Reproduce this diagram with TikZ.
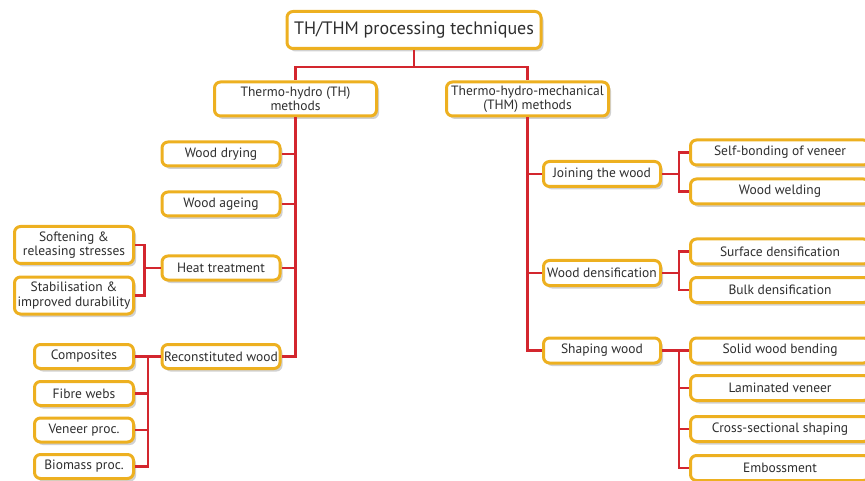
\documentclass[tikz,border=0pt]{standalone}
\usepackage{fontspec}
\setmainfont{PT Sans}
\usepackage{xcolor}
\usepackage{tikz}
\usetikzlibrary{shadows,calc}

\definecolor{boxorange}{HTML}{EDB020}
\definecolor{linkred}{HTML}{D3262E}
\definecolor{textgrey}{HTML}{2E2E2E}

\begin{document}
\begin{tikzpicture}[x=1pt, y=-1pt,
    basebox/.style={rectangle, rounded corners=6pt, draw=boxorange, line width=3pt, fill=white, align=center, text=textgrey, inner sep=1pt, font=\fontsize{13.5}{14.5}\selectfont, drop shadow={shadow xshift=2.5pt, shadow yshift=-3pt, fill=black, opacity=0.18}},
    titlebox/.style={basebox, minimum width=254pt, minimum height=37pt, font=\fontsize{18}{20}\selectfont},
    methodbox/.style={basebox, minimum width=162pt, minimum height=34pt},
    techbox/.style={basebox, minimum width=118pt, minimum height=24pt},
    twobox/.style={basebox, minimum width=119pt, minimum height=37pt},
    procbox/.style={basebox, minimum width=99pt, minimum height=24pt},
    leafbox/.style={basebox, minimum width=179pt, minimum height=25pt},
    link/.style={draw=linkred, line width=2.2pt}
  ]
    \useasboundingbox (0,0) rectangle (865,481);

    \node[titlebox] (title) at (414, 30) {TH/THM processing techniques};

    \node[methodbox] (th) at (295.5, 99) {Thermo-hydro (TH)\\methods};
    \node[methodbox] (thm) at (527.5, 99) {Thermo-hydro-mechanical\\(THM) methods};

    \node[techbox] (dry) at (221, 154) {Wood drying};
    \node[techbox] (ageing) at (221, 204) {Wood ageing};
    \node[techbox] (heat) at (221, 268) {Heat treatment};
    \node[techbox] (recon) at (221, 356.5) {Reconstituted wood};

    \node[twobox] (soft) at (74, 245) {Softening \&\\releasing stresses};
    \node[twobox] (stab) at (74, 295.5) {Stabilisation \&\\improved durability};

    \node[procbox] (comp) at (84, 356.5) {Composites};
    \node[procbox] (fibre) at (84, 393.5) {Fibre webs};
    \node[procbox] (veneer) at (84, 430) {Veneer proc.};
    \node[procbox] (biomass) at (84, 466.5) {Biomass proc.};

    \node[techbox, minimum width=117pt, minimum height=25pt] (join) at (602, 174) {Joining the wood};
    \node[techbox, minimum width=117pt, minimum height=25pt] (dens) at (602, 273) {Wood densification};
    \node[techbox, minimum width=117pt, minimum height=25pt] (shape) at (602, 350.5) {Shaping wood};

    \node[leafbox] (selfb) at (780, 152.5) {Self-bonding of veneer};
    \node[leafbox] (weld) at (780, 191.5) {Wood welding};
    \node[leafbox] (surf) at (780, 251.5) {Surface densification};
    \node[leafbox] (bulk) at (780, 290) {Bulk densification};
    \node[leafbox] (solid) at (780, 350.5) {Solid wood bending};
    \node[leafbox] (lam) at (780, 388) {Laminated veneer};
    \node[leafbox] (cross) at (780, 429) {Cross-sectional shaping};
    \node[leafbox] (emb) at (780, 468) {Embossment};

    \draw[link] (title.south) -- ++(0,17) coordinate (tj) -| (th.north);
    \draw[link] (tj) -| (thm.north);

    \draw[link] (th.south) |- (recon.east);
    \foreach \n in {dry,ageing,heat}
      \draw[link] (\n.east) -- (\n.east -| th.south);

    \draw[link] (heat.west) -- ++(-16,0) coordinate (hj);
    \draw[link] (soft.east) -| (hj) |- (stab.east);

    \draw[link] (recon.west) -- (comp.east);
    \draw[link] (comp.east) -- ++(13,0) coordinate (rj);
    \foreach \n in {fibre,veneer,biomass}
      \draw[link] (rj) |- (\n.east);

    \draw[link] (thm.south) |- (shape.west);
    \foreach \n in {join,dens}
      \draw[link] (\n.west) -- (\n.west -| thm.south);

    \draw[link] (join.east) -- ++(17,0) coordinate (jj);
    \draw[link] (jj) |- (selfb.west);
    \draw[link] (jj) |- (weld.west);

    \draw[link] (dens.east) -- ++(17,0) coordinate (dj);
    \draw[link] (dj) |- (surf.west);
    \draw[link] (dj) |- (bulk.west);

    \draw[link] (shape.east) -- ++(17,0) coordinate (sj) -- (solid.west);
    \foreach \n in {lam,cross,emb}
      \draw[link] (sj) |- (\n.west);
  \end{tikzpicture}
\end{document}
